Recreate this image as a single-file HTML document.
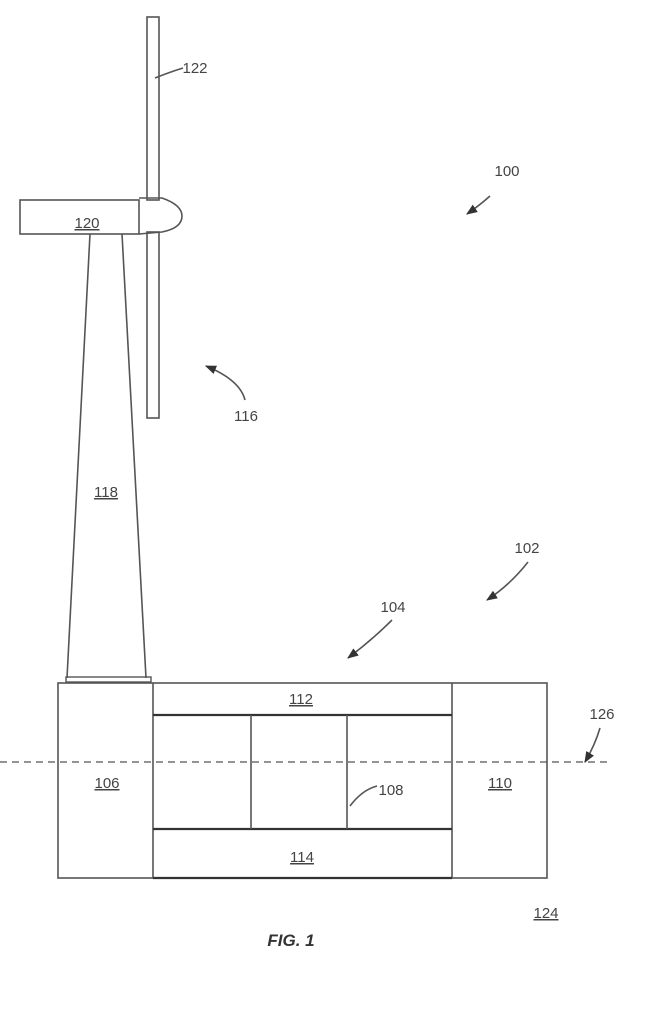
<!DOCTYPE html>
<html><head><meta charset="utf-8"><style>
html,body{margin:0;padding:0;background:#fff;}
svg{display:block}
text{font-family:"Liberation Sans",sans-serif;fill:#444;font-size:15px}
</style></head><body>
<svg width="651" height="1011" viewBox="0 0 651 1011" xmlns="http://www.w3.org/2000/svg">
<defs><marker id="a" viewBox="0 0 10 10" refX="9" refY="5" markerWidth="7" markerHeight="7" orient="auto"><path d="M0,1 L10,5 L0,9 z" fill="#333"/></marker></defs>
<g stroke="#555" stroke-width="1.6" fill="none">
<!-- blades -->
<rect x="147" y="17" width="12" height="183"/>
<rect x="147" y="232" width="12" height="186"/>
<!-- nacelle -->
<rect x="20" y="200" width="119" height="34"/>
<path d="M139,198 L162,198 Q182,205 182,216 Q182,228 162,232 L139,234"/>
<!-- tower -->
<path d="M90,234 L67,678 M122,234 L146,678"/>
<rect x="66" y="677" width="85" height="5" stroke-width="1.4"/>
<!-- platform -->
<rect x="58" y="683" width="489" height="195"/>
<line x1="153" y1="683" x2="153" y2="878"/>
<line x1="452" y1="683" x2="452" y2="878"/>
<line x1="153" y1="715" x2="452" y2="715" stroke="#333" stroke-width="2.2"/>
<line x1="153" y1="829" x2="452" y2="829" stroke="#333" stroke-width="2.2"/>
<line x1="153" y1="878" x2="452" y2="878" stroke="#333" stroke-width="2.2"/>
<line x1="251" y1="715" x2="251" y2="829"/>
<line x1="347" y1="715" x2="347" y2="829"/>
<line x1="0" y1="762" x2="610" y2="762" stroke-dasharray="7,5" stroke-width="1.2"/>
<!-- leaders -->
<path d="M183,68 Q170,72 155,78"/>
<path d="M490,196 Q480,205 467,214" marker-end="url(#a)"/>
<path d="M245,400 Q240,380 206,366" marker-end="url(#a)"/>
<path d="M528,562 Q510,585 487,600" marker-end="url(#a)"/>
<path d="M392,620 Q372,640 348,658" marker-end="url(#a)"/>
<path d="M600,728 Q595,745 585,762" marker-end="url(#a)"/>
<path d="M377,786 Q362,790 350,806"/>
</g>
<g text-anchor="middle">
<text x="195" y="73">122</text>
<text x="87" y="228" text-decoration="underline">120</text>
<text x="507" y="176">100</text>
<text x="246" y="421">116</text>
<text x="106" y="497" text-decoration="underline">118</text>
<text x="527" y="553">102</text>
<text x="393" y="612">104</text>
<text x="301" y="704" text-decoration="underline">112</text>
<text x="602" y="719">126</text>
<text x="107" y="788" text-decoration="underline">106</text>
<text x="500" y="788" text-decoration="underline">110</text>
<text x="391" y="795">108</text>
<text x="302" y="862" text-decoration="underline">114</text>
<text x="546" y="918" text-decoration="underline">124</text>
<text x="291" y="946" style="font-weight:bold;font-style:italic;font-size:17px;fill:#333">FIG. 1</text>
</g>
</svg>
</body></html>
